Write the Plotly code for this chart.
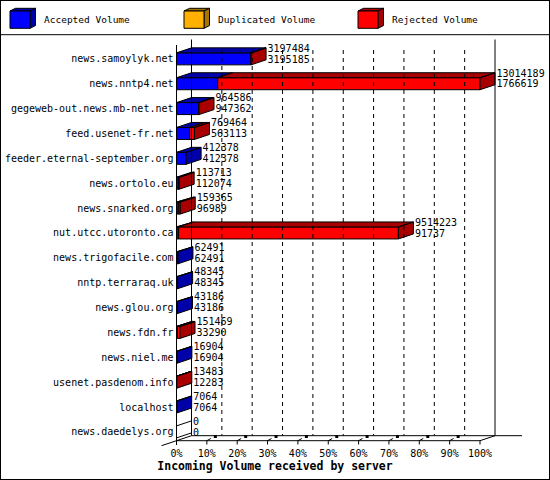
import plotly.graph_objects as go

# --- data ---
servers = ["news.samoylyk.net", "news.nntp4.net", "gegeweb-out.news.mb-net.net",
           "feed.usenet-fr.net", "feeder.eternal-september.org", "news.ortolo.eu",
           "news.snarked.org", "nut.utcc.utoronto.ca", "news.trigofacile.com",
           "nntp.terraraq.uk", "news.glou.org", "news.fdn.fr", "news.niel.me",
           "usenet.pasdenom.info", "localhost", "news.daedelys.org"]
total_volume = [3197484, 13014189, 964586, 769464, 412378, 113713, 159365, 9514223,
                62491, 48345, 43186, 151469, 16904, 13483, 7064, 0]
accepted_volume = [3195185, 1766619, 947362, 563113, 412378, 112074, 96989, 91737,
                   62491, 48345, 43186, 33290, 16904, 12283, 7064, 0]
duplicated_volume = [0, 0, 0, 0, 0, 0, 0, 0, 0, 0, 0, 0, 0, 0, 0, 0]
rejected_volume = [t - a - d for t, a, d in zip(total_volume, accepted_volume, duplicated_volume)]
pct_ticks = [0, 10, 20, 30, 40, 50, 60, 70, 80, 90, 100]

FONT = "DejaVu Sans Mono"
COLORS = {"acc": ("#0000FF", "#0000A8"), "dup": ("#FFB000", "#A87400"), "rej": ("#FF0000", "#A80000")}

# --- page geometry (pixels) ---
W, H = 550, 480
X0_PX, X100_PX = 176.5, 480.0
ROW0_PX, ROW_PX = 58.85, 24.87
FLOOR_PX, BOTTOM_PX = 440.7, 446.0
PPP = (X100_PX - X0_PX) / 100.0          # pixels per percent
DX = 15.0 / PPP                            # depth offset in %
DY = 5.0 / ROW_PX                          # depth offset in rows
HALF = 6.0 / ROW_PX                        # half bar height in rows


def ypx(p):
    return (p - ROW0_PX) / ROW_PX


FLOOR = ypx(FLOOR_PX)
vmax = max(total_volume)

fig = go.Figure()

# --- 3D bars ---
faces = {k: ([], []) for k in ("acc", "dup", "rej")}
darks = {k: ([], []) for k in ("acc", "dup", "rej")}
empty = ([], [])


def add_poly(store, xs, ys):
    store[0].extend(xs + [None])
    store[1].extend(ys + [None])


for i in range(len(servers)):
    a = accepted_volume[i] / vmax * 100
    d = duplicated_volume[i] / vmax * 100
    t = total_volume[i] / vmax * 100
    top, bot = i - HALF, i + HALF
    segs = [(0, a, "acc"), (a, a + d, "dup"), (a + d, t, "rej")]
    segs = [s for s in segs if s[1] - s[0] > 0]
    for x0, x1, key in segs:
        add_poly(faces[key], [x0, x1, x1, x0, x0], [bot, bot, top, top, bot])
        add_poly(darks[key], [x0, x0 + DX, x1 + DX, x1, x0], [top, top - DY, top - DY, top, top])
    side_x = [t, t + DX, t + DX, t, t]
    side_y = [top, top - DY, bot - DY, bot, top]
    if segs:
        add_poly(darks[segs[-1][2]], side_x, side_y)
    else:
        add_poly(empty, side_x, side_y)

for key in ("acc", "dup", "rej"):
    for store, col in ((faces[key], COLORS[key][0]), (darks[key], COLORS[key][1])):
        if store[0]:
            fig.add_trace(go.Scatter(x=store[0], y=store[1], mode="lines", fill="toself",
                                     fillcolor=col, line=dict(color="black", width=1),
                                     hoverinfo="skip", showlegend=False))
fig.add_trace(go.Scatter(x=empty[0], y=empty[1], mode="lines", fill="toself", fillcolor="white",
                         line=dict(color="black", width=1), hoverinfo="skip", showlegend=False))

# --- frame, back grid, ticks ---
fx, fy = [], []
back = FLOOR - DY
for xs, ys in [
    ([DX, DX], [ypx(39.5), back]),
    ([100 + DX, 100 + DX], [ypx(39.5), back]),
    ([DX, 100 + DX + 27 / PPP], [back, back]),
    ([0, 100], [FLOOR, FLOOR]),
    ([100, 100 + DX], [FLOOR, back]),
    ([-DX, DX], [FLOOR + DY, back]),
    ([0, 0], [ypx(45), ypx(445)]),
    ([100, 100], [FLOOR, ypx(444.5)]),
]:
    fx += xs + [None]
    fy += ys + [None]
mark_x, mark_y = [], []
for v in pct_ticks[1:-1]:
    fx += [v, v, None, v, v + 1.3, None]
    fy += [FLOOR, ypx(444.5), None, FLOOR, ypx(438.5), None]
    mark_x.append(v + 2.8)
    mark_y.append(ypx(436.5))
fig.add_trace(go.Scatter(x=fx, y=fy, mode="lines", line=dict(color="black", width=1),
                         hoverinfo="skip", showlegend=False))
fig.add_trace(go.Scatter(x=mark_x, y=mark_y, mode="markers",
                         marker=dict(symbol="square", size=3, color="black"),
                         hoverinfo="skip", showlegend=False))

gx, gy = [], []
for v in pct_ticks[1:-1]:
    gx += [v + DX, v + DX, None]
    gy += [ypx(50), back, None]
fig.add_trace(go.Scatter(x=gx, y=gy, mode="lines", line=dict(color="black", width=1, dash="4px,4px"),
                         hoverinfo="skip", showlegend=False))

# --- value labels (total / accepted) ---
lx, ly, lt = [], [], []
for i in range(len(servers)):
    t = total_volume[i] / vmax * 100
    lx += [t + DX + 1.5 / PPP, t + DX + 1.5 / PPP]
    ly += [i - 0.39, i + 0.05]
    lt += [str(total_volume[i]), str(accepted_volume[i])]
fig.add_trace(go.Scatter(x=lx, y=ly, text=lt, mode="text", textposition="middle right",
                         textfont=dict(family=FONT, size=10, color="black"),
                         hoverinfo="skip", showlegend=False, cliponaxis=False))

# --- legend drawn as little cubes ---
shapes = [
    dict(type="rect", xref="paper", yref="paper", x0=0, x1=1, y0=0, y1=1,
         line=dict(color="black", width=2)),
    dict(type="line", xref="paper", yref="paper", x0=0, x1=1,
         y0=1 - 34.7 / H, y1=1 - 34.7 / H, line=dict(color="black", width=1)),
]


def ppath(pts):
    return "M " + " L ".join(f"{x / W:.5f},{1 - y / H:.5f}" for x, y in pts) + " Z"


legend_items = [("acc", "Accepted Volume", 10), ("dup", "Duplicated Volume", 184), ("rej", "Rejected Volume", 358)]
for key, label, lx0 in legend_items:
    front, dark = COLORS[key]
    x0, x1, y0, y1 = lx0, lx0 + 20, 11, 28.3
    for pts, col in [
        ([(x0, y0), (x0 + 5.5, y0 - 2.7), (x1 + 5.5, y0 - 2.7), (x1, y0)], dark),
        ([(x1, y0), (x1 + 5.5, y0 - 2.7), (x1 + 5.5, y1 - 2.7), (x1, y1)], dark),
        ([(x0, y0), (x1, y0), (x1, y1), (x0, y1)], front),
    ]:
        shapes.append(dict(type="path", xref="paper", yref="paper", path=ppath(pts),
                           fillcolor=col, line=dict(color="black", width=1)))
    fig.add_annotation(x=(lx0 + 32) / W, y=1 - 20 / H, xref="paper", yref="paper",
                       text=label, showarrow=False, xanchor="left", yanchor="middle",
                       font=dict(family=FONT, size=9.5, color="black"))

fig.update_layout(
    width=W, height=H,
    margin=dict(l=0, r=0, t=0, b=0),
    paper_bgcolor="white", plot_bgcolor="white",
    shapes=shapes,
    xaxis=dict(range=[-X0_PX / PPP, (W - X0_PX) / PPP], domain=[0, 1],
               tickvals=pct_ticks, ticktext=[f"{v}%" for v in pct_ticks],
               ticks="", showgrid=False, zeroline=False, showline=False,
               tickfont=dict(family=FONT, size=10, color="black"),
               title=dict(text="<b>Incoming Volume received by server</b>", standoff=2,
                          font=dict(family=FONT, size=11.5, color="black"))),
    yaxis=dict(range=[ypx(BOTTOM_PX), ypx(0)], domain=[1 - BOTTOM_PX / H, 1],
               anchor="free", position=X0_PX / W, side="left",
               tickvals=list(range(len(servers))), ticktext=servers,
               ticks="", ticklabelstandoff=3, showgrid=False, zeroline=False, showline=False,
               tickfont=dict(family=FONT, size=10, color="black")),
)

fig.write_html("out.html", config={"displayModeBar": False},
               post_script="document.body.style.margin='0';")
